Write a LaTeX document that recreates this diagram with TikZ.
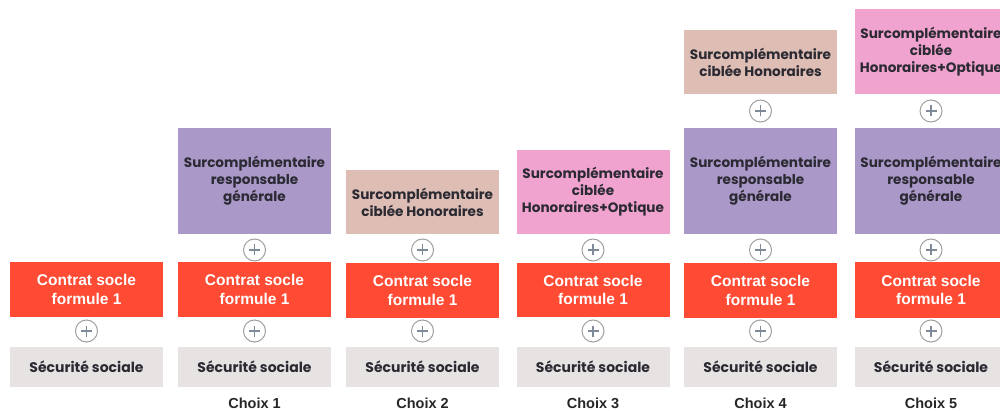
\documentclass[tikz,border=0pt]{standalone}
\usepackage{fontspec}
\setmainfont{Liberation Sans}
\newfontfamily\popfont{Poppins Bold}
\definecolor{socred}{HTML}{FF4B33}
\definecolor{secgrey}{HTML}{E8E3E3}
\definecolor{respurple}{HTML}{A998C8}
\definecolor{honbeige}{HTML}{DDBDB4}
\definecolor{optpink}{HTML}{F0A3CF}
\definecolor{darktext}{HTML}{2B2A33}
\definecolor{plusgrey}{HTML}{A0A0A0}
\definecolor{plussign}{HTML}{7F8A99}
\begin{document}
\begin{tikzpicture}[x=1pt,y=-1pt,
  box/.style={rectangle,inner sep=0pt,minimum width=153pt,align=center},
  redbox/.style={box,fill=socred,text=white,minimum height=54pt,
    font=\fontsize{15.5}{18.5}\selectfont\bfseries},
  pastel/.style={box,text=darktext,font=\popfont\fontsize{13.6}{17}\selectfont},
  secbox/.style={pastel,fill=secgrey,minimum height=40pt,font=\popfont\fontsize{14}{17}\selectfont},
  purplebox/.style={pastel,fill=respurple,minimum height=106pt},
  beigebox/.style={pastel,fill=honbeige,minimum height=64pt},
  pinkbox/.style={pastel,fill=optpink,minimum height=84pt},
  choixlabel/.style={font=\fontsize{14.5}{16}\selectfont\bfseries,text=black!85,inner sep=0pt},
  plus/.style={circle,draw=plusgrey,line width=1pt,fill=white,minimum size=22pt,inner sep=0pt,
    path picture={\draw[plussign,line width=1.1pt]
      ([xshift=-5.5pt]path picture bounding box.center) -- ([xshift=5.5pt]path picture bounding box.center)
      ([yshift=-5.5pt]path picture bounding box.center) -- ([yshift=5.5pt]path picture bounding box.center);}}
]
\useasboundingbox (0,0) rectangle (1000,411);
\clip (0,0) rectangle (1000,411);

% column 0
\node[secbox] (s0) at (86.5,367) {Sécurité sociale};
\node[plus] (pa0) at (86.5,331) {};
\node[redbox] (r0) at (86.5,289.5) {Contrat socle\\formule 1};

% column 1
\node[secbox] (s1) at (254.5,367) {Sécurité sociale};
\node[plus] (pa1) at (254.5,331) {};
\node[redbox] (r1) at (254.5,289.5) {Contrat socle\\formule 1};
\node[plus] (pb1) at (254.5,250) {};
\node[purplebox] (u1) at (254.5,181) {Surcomplémentaire\\responsable\\générale};
\node[choixlabel] (c1) at (254.5,403.5) {Choix 1};

% column 2
\node[secbox] (s2) at (422.5,367) {Sécurité sociale};
\node[plus] (pa2) at (422.5,331) {};
\node[redbox] (r2) at (422.5,290.5) {Contrat socle\\formule 1};
\node[plus] (pb2) at (422.5,250) {};
\node[beigebox] (u2) at (422.5,202) {Surcomplémentaire\\ciblée Honoraires};
\node[choixlabel] (c2) at (422.5,403.5) {Choix 2};

% column 3
\node[secbox] (s3) at (593,367) {Sécurité sociale};
\node[plus] (pa3) at (593,331) {};
\node[redbox] (r3) at (593,290) {Contrat socle\\formule 1};
\node[plus] (pb3) at (593,250) {};
\node[pinkbox] (u3) at (593,192) {Surcomplémentaire\\ciblée\\Honoraires+Optique};
\node[choixlabel] (c3) at (593,403.5) {Choix 3};

% column 4
\node[secbox] (s4) at (760.5,367) {Sécurité sociale};
\node[plus] (pa4) at (760.5,331) {};
\node[redbox] (r4) at (760.5,290.5) {Contrat socle\\formule 1};
\node[plus] (pb4) at (760.5,250) {};
\node[purplebox] (u4) at (760.5,181) {Surcomplémentaire\\responsable\\générale};
\node[plus] (pc4) at (760.5,111) {};
\node[beigebox] (v4) at (760.5,62) {Surcomplémentaire\\ciblée Honoraires};
\node[choixlabel] (c4) at (760.5,403.5) {Choix 4};

% column 5
\node[secbox] (s5) at (931,367) {Sécurité sociale};
\node[plus] (pa5) at (931,331) {};
\node[redbox,minimum height=56pt] (r5) at (931,290) {Contrat socle\\formule 1};
\node[plus] (pb5) at (931,250) {};
\node[purplebox] (u5) at (931,181) {Surcomplémentaire\\responsable\\générale};
\node[plus] (pc5) at (931,111) {};
\node[pinkbox,minimum height=85pt] (v5) at (931,51.5) {Surcomplémentaire\\ciblée\\Honoraires+Optique};
\node[choixlabel] (c5) at (931,403.5) {Choix 5};
\end{tikzpicture}
\end{document}
